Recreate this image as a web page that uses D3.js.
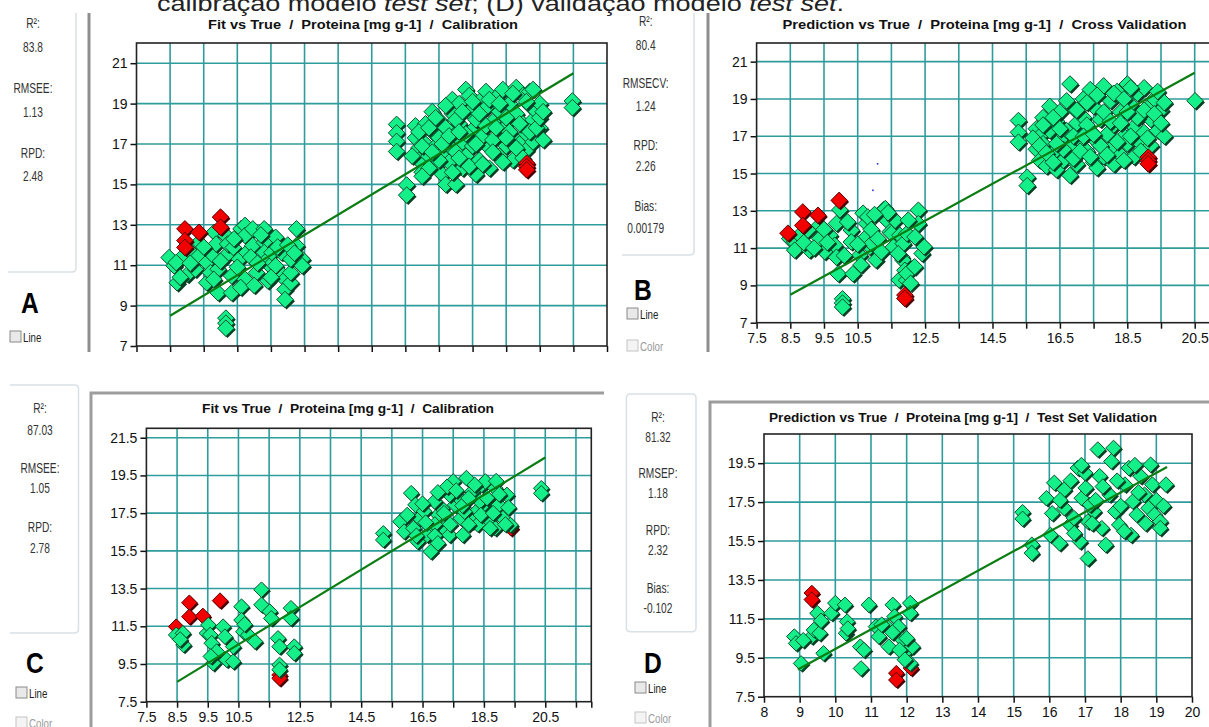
<!DOCTYPE html>
<html>
<head>
<meta charset="utf-8">
<script src="https://cdn.jsdelivr.net/npm/d3@7"></script>
<style>
  body { margin: 0; background: #fff; }
  svg { display: block; font-family: "Liberation Sans", Arial, sans-serif; }
</style>
</head>
<body>
<svg id="fig" width="1209" height="727"></svg>
<script>
// ---------------- values ----------------
// (A) calibration
const aGreen = [[8.47,11.38],[8.62,10.97],[8.71,10.13],[9.02,10.55],[8.9,11.47],[8.68,11.13],[9.13,11.63],[9.36,12.13],[9.36,11.47],[9.25,10.8],[9.59,11.13],[9.74,11.55],[9.59,10.13],[9.7,10.63],[9.81,12.63],[9.87,12.05],[9.93,10.8],[9.93,9.63],[10.16,12.47],[10.16,11.47],[10.21,12.05],[10.38,11.88],[10.33,9.63],[10.33,10.47],[10.56,11.3],[10.61,12.8],[10.73,12.97],[10.73,12.47],[10.73,10.3],[10.78,11.63],[10.96,11.97],[10.96,12.8],[11.07,10.63],[11.3,12.8],[11.3,12.13],[11.3,11.63],[11.41,10.22],[11.41,11.3],[11.47,10.97],[11.53,11.63],[11.64,12.38],[11.64,10.97],[11.81,11.63],[11.87,10.47],[11.92,10.3],[11.92,9.8],[11.92,9.3],[12.09,10.13],[12.09,10.63],[12.09,11.3],[12.26,12.8],[12.26,11.97],[12.43,11.3],[12.43,10.97],[10.16,8.38],[10.16,8.13],[10.16,7.88],
  [8.8,10.4],[9.1,11.1],[9.5,11.9],[9.8,10.3],[10.0,11.2],[10.4,12.3],[10.5,10.9],[10.9,11.4],[11.2,12.5],[11.1,11.1],[11.7,11.9],[11.5,10.4],[12.0,12.0],[12.2,11.6],[10.6,9.9],[11.0,10.0],
  [15.24,17.97],[15.24,17.55],[15.24,17.13],[15.24,16.63],[15.54,14.97],[15.54,14.47],
  [15.8,17.9],[15.8,17.3],[15.9,16.8],[15.9,16.2],[16.0,15.6],[16.1,18.0],[16.1,17.0],[16.2,16.4],[16.3,18.6],[16.3,17.6],[16.4,16.9],[16.4,15.9],[16.5,18.2],[16.5,17.3],[16.6,16.5],[16.6,15.5],[16.7,17.8],[16.7,15.0],[16.8,16.9],[16.8,16.1],[16.9,19.2],[16.9,18.5],[17.0,17.5],[17.0,15.0],[17.0,16.6],[17.1,19.0],[17.1,18.0],[17.2,17.1],[17.2,15.8],[17.3,16.4],[17.3,19.7],[17.4,19.4],[17.4,18.6],[17.5,17.7],[17.5,16.9],[17.6,15.5],[17.6,18.2],[17.7,19.1],[17.7,16.2],[17.8,17.4],[17.9,18.8],[17.9,19.6],[18.0,16.8],[18.0,15.8],[18.1,18.1],[18.1,17.2],[18.2,19.3],[18.3,16.4],[18.3,18.6],[18.4,17.7],[18.4,19.7],[18.5,16.9],[18.6,18.2],[18.6,19.0],[18.7,17.4],[18.7,16.2],[18.8,19.8],[18.8,18.5],[18.9,17.0],[19.0,19.4],[19.0,18.0],[19.1,17.5],[19.1,16.7],[19.2,18.9],[19.2,19.6],[19.3,18.2],[19.3,17.1],[19.4,18.6],[19.5,17.8],[19.6,17.2],[19.5,19.0],
  [15.7,16.4],[15.9,17.6],[16.0,16.9],[16.2,17.8],[16.2,15.8],[16.4,18.3],[16.5,16.2],[16.6,17.0],[16.7,18.9],[16.8,17.4],[16.9,15.6],[17.0,18.2],[17.1,16.3],[17.2,18.6],[17.3,17.5],[17.4,15.9],[17.5,19.1],[17.6,17.0],[17.7,18.5],[17.8,16.0],[17.9,17.9],[18.0,19.2],[18.1,16.6],[18.2,17.8],[18.3,19.0],[18.4,16.1],[18.5,18.3],[18.6,17.6],[18.7,19.5],[18.8,16.8],[18.9,18.0],[19.0,16.3],[19.1,19.1],[19.2,17.6],[19.3,19.7],[19.4,17.8],[19.5,18.3],[19.6,18.6],[16.3,16.6],[17.1,17.6],[18.5,17.3],[16.0,15.4],
  [20.47,19.13],[20.47,18.8]];
const aRed = [[8.94,12.8],[8.94,12.22],[8.94,11.88],[9.36,12.63],[10.0,13.38],[10.0,12.88],[19.11,16.05],[19.11,15.88],[19.11,15.72]];
const aFit = [[8.5,8.5],[20.5,20.5]];

// (B) cross validation
const bGreen = [[8.48,11.51],[8.63,11.33],[8.63,10.89],[8.78,11.69],[9.02,11.96],[9.07,10.89],[9.37,12.23],[9.37,11.51],[9.52,10.81],[9.67,11.69],[9.82,11.15],[9.87,12.32],[9.87,10.51],[9.92,9.62],[9.97,13.05],[10.31,11.96],[10.31,11.33],[10.36,9.62],[10.56,10.62],[10.66,12.87],[10.76,12.32],[10.76,11.6],[10.8,12.67],[10.86,11.06],[10.92,11.25],[11.04,10.36],[11.26,13.05],[11.32,13.12],[11.36,12.5],[11.46,11.87],[11.5,11.78],[11.56,11.06],[11.61,12.49],[11.73,9.29],[11.75,11.69],[11.8,10.53],[11.84,10.36],[11.85,11.24],[11.9,9.81],[11.95,9.28],[11.96,11.78],[11.96,9.64],[12.07,9.11],[12.19,10.0],[12.3,13.03],[12.3,12.31],[12.41,10.71],[12.47,11.07],[10.05,8.28],[10.05,8.05],[10.05,7.84],
  [8.9,11.3],[9.2,11.0],[9.5,12.0],[9.6,11.3],[10.1,10.6],[10.2,12.4],[10.5,11.2],[10.9,12.0],[11.1,11.5],[11.2,10.8],[11.4,12.9],[11.7,10.7],[12.0,12.5],[12.2,11.6],[10.6,10.1],[11.0,12.8],
  [15.27,17.84],[15.27,17.21],[15.27,16.68],[15.53,14.8],[15.53,14.35],
  [15.8,17.4],[15.8,16.3],[15.9,17.0],[15.9,15.7],[16.0,18.0],[16.0,16.6],[16.1,15.4],[16.2,18.6],[16.2,17.3],[16.3,16.1],[16.4,17.8],[16.4,15.2],[16.5,16.8],[16.5,18.3],[16.6,15.7],[16.7,17.3],[16.8,19.8],[16.8,16.4],[16.8,14.9],[16.9,18.5],[17.0,17.7],[17.0,15.5],[17.1,16.8],[17.2,19.0],[17.2,18.0],[17.3,16.2],[17.4,17.3],[17.4,19.5],[17.5,15.6],[17.5,18.6],[17.6,16.7],[17.6,15.3],[17.7,17.9],[17.8,19.7],[17.8,15.9],[17.9,17.1],[18.0,18.9],[18.0,16.3],[18.1,17.6],[18.1,15.5],[18.2,19.4],[18.3,16.0],[18.3,18.3],[18.4,17.0],[18.5,19.8],[18.5,16.6],[18.6,18.7],[18.7,17.5],[18.7,15.9],[18.8,19.3],[18.9,18.1],[18.9,16.6],[19.0,19.6],[19.0,17.2],[19.1,18.5],[19.2,17.9],[19.2,16.5],[19.3,19.0],[19.4,17.3],[19.5,18.4],[19.6,17.0],
  [15.7,16.9],[15.9,16.5],[16.0,17.6],[16.1,16.1],[16.3,18.0],[16.3,15.6],[16.5,17.4],[16.6,16.3],[16.7,18.9],[16.9,17.0],[16.9,15.8],[17.0,18.4],[17.1,16.2],[17.3,18.8],[17.3,17.6],[17.4,15.9],[17.6,19.2],[17.7,16.5],[17.8,18.3],[17.9,16.0],[18.0,17.8],[18.1,19.3],[18.2,16.7],[18.3,17.7],[18.4,19.0],[18.4,15.7],[18.6,17.0],[18.6,19.6],[18.8,18.0],[18.9,16.2],[19.0,18.4],[19.1,16.9],[19.3,18.2],[19.4,19.4],[19.5,17.7],[19.6,18.8],[17.2,17.0],[18.5,18.3],[16.4,16.6],[17.5,17.1],
  [20.51,18.9]];
const bRed = [[8.43,11.8],[8.87,12.94],[8.87,12.22],[9.32,12.76],[9.95,13.56],[11.9,8.48],[11.9,8.3],[19.12,15.88],[19.12,15.7],[19.12,15.52]];
const bFit = [[8.5,8.5],[20.5,20.4]];
const bSpecks = [[11.09,15.52],[10.95,14.1]];

// (C) calibration, test-set model
const cGreen = [[8.47,11.04],[8.69,11.13],[8.71,10.51],[8.6,10.8],[9.47,11.13],[9.52,11.57],[9.58,11.04],[9.63,10.6],[9.68,9.54],[9.79,10.16],[9.6,9.9],[10.0,11.48],[10.06,10.95],[10.12,9.72],[10.33,9.63],[10.33,10.42],[10.6,12.54],[10.6,11.83],[10.66,11.21],[10.82,11.04],[10.7,11.6],[11.04,10.69],[11.25,13.44],[11.25,12.64],[11.52,12.28],[11.57,11.92],[11.79,10.86],[11.84,10.42],[11.84,9.45],[11.84,9.2],[12.21,12.46],[12.21,11.92],[12.32,10.42],[12.32,10.07],
  [15.22,16.43],[15.22,16.08],
  [16.13,18.56],[16.27,17.94],[15.78,17.05],[15.9,16.52],[16.4,17.23],[16.34,15.99],[16.77,15.46],[16.77,16.34],[17.01,17.41],[17.2,16.7],[17.38,16.34],[17.5,19.18],[17.56,17.94],[17.75,17.23],[17.81,16.34],[17.93,19.36],[17.69,18.29],[18.12,18.65],[18.25,17.58],[18.12,17.05],[18.43,19.0],[18.49,17.94],[18.55,19.18],[18.68,17.05],[18.87,18.82],[18.99,17.94],[19.12,17.23],[19.25,18.47],[18.87,16.7],[19.37,16.87],[17.38,18.47],[17.13,17.76],[16.89,18.12],[16.65,16.34],[18.37,18.12],[17.87,17.58],[16.55,17.6],[17.3,18.9],[18.9,19.2],[16.9,16.9],[18.3,16.9],
  [16.0,17.4],[16.2,16.7],[16.5,18.0],[16.6,17.0],[16.9,16.3],[17.0,18.6],[17.2,17.5],[17.4,16.9],[17.6,18.7],[17.8,17.9],[18.0,16.9],[18.2,19.0],[18.4,17.4],[18.6,18.3],[18.8,17.5],[19.0,18.5],[19.2,16.9],[19.3,17.8],[17.0,15.9],[16.3,16.3],[18.0,18.3],[18.7,16.7],
  [20.37,18.82],[20.37,18.55]];
const cRed = [[8.47,11.48],[8.9,12.75],[8.9,12.01],[9.34,12.05],[9.9,12.86],[11.84,8.92],[11.84,8.74],[19.38,16.7]];
const cFit = [[8.5,8.55],[20.5,20.45]];

// (D) test set validation
const dGreen = [[8.85,10.59],[8.9,10.24],[9.04,9.21],[9.34,10.59],[9.4,10.93],[9.56,10.76],[9.5,11.79],[9.67,9.73],[9.89,11.79],[10.0,12.31],[10.27,12.22],[10.33,11.36],[10.3,10.76],[10.7,10.07],[10.72,8.95],[10.94,12.22],[11.14,11.1],[11.22,10.59],[11.5,11.02],[11.5,10.07],[11.61,12.22],[11.66,11.62],[11.77,11.1],[11.88,10.42],[11.93,9.73],[12.1,9.21],[12.1,12.31],[12.1,11.79],[12.16,10.07],
  [9.1,10.4],[9.6,11.4],[10.35,11.0],[10.8,9.9],[11.3,11.2],[11.8,9.9],[11.6,10.8],[11.95,9.4],[12.0,10.5],
  [15.25,16.98],[15.25,16.64],[15.51,15.31],[15.51,14.88],
  [15.92,17.7],[16.08,16.92],[16.03,15.81],[16.29,15.38],[16.14,18.49],[16.42,18.14],[16.42,17.19],[16.58,16.33],[16.8,19.25],[16.91,17.7],[16.86,15.47],[17.08,14.6],[17.02,18.23],[17.08,16.5],[17.25,17.02],[17.36,20.2],[17.41,18.83],[17.47,16.16],[17.58,15.3],[17.69,17.88],[17.8,20.28],[17.74,19.59],[17.85,17.02],[17.96,16.33],[18.12,18.4],[18.23,19.25],[18.29,15.81],[18.34,17.53],[18.56,18.83],[18.67,17.88],[18.78,17.19],[18.84,19.42],[18.89,18.4],[18.95,16.85],[19.11,16.5],[19.11,16.16],[19.27,18.4],[18.45,16.85],[17.14,17.36],[16.69,16.68],
  [16.3,17.6],[16.6,18.6],[16.7,15.9],[17.0,19.0],[17.3,17.6],[17.5,18.3],[17.9,18.6],[18.0,17.3],[18.4,19.4],[18.5,18.0],[18.7,16.4],[19.0,17.6],[17.2,16.4],[18.1,16.0],[16.9,19.4],[19.2,17.3]];
const dRed = [[9.34,12.83],[9.34,12.49],[11.71,8.71],[11.71,8.36],[12.12,8.97]];
const dFit = [[8.95,8.9],[19.3,19.3]];

// ticks and labels
const abXTicks = [7.5,8.5,9.5,10.5,11.5,12.5,13.5,14.5,15.5,16.5,17.5,18.5,19.5,20.5,21.5];
const abXLabels = ["7.5","8.5","9.5","10.5","","12.5","","14.5","","16.5","","18.5","","20.5",""];
const abYTicks = [7,9,11,13,15,17,19,21];
const abYLabels = ["7","9","11","13","15","17","19","21"];
const cXTicks = [7.5,8.5,9.5,10.5,11.5,12.5,13.5,14.5,15.5,16.5,17.5,18.5,19.5,20.5,21.5,22];
const cXLabels = ["7.5","8.5","9.5","10.5","","12.5","","14.5","","16.5","","18.5","","20.5","",""];
const cYTicks = [7.5,9.5,11.5,13.5,15.5,17.5,19.5,21.5];
const cYLabels = ["7.5","9.5","11.5","13.5","15.5","17.5","19.5","21.5"];
const dXTicks = [8,9,10,11,12,13,14,15,16,17,18,19,20];
const dXLabels = ["8","9","10","11","12","13","14","15","16","17","18","19","20"];
const dYTicks = [7.5,9.5,11.5,13.5,15.5,17.5,19.5];
const dYLabels = ["7.5","9.5","11.5","13.5","15.5","17.5","19.5"];

// statistics panels
const aStats = ["R²:","83.8","RMSEE:","1.13","RPD:","2.48"];
const bStats = ["R²:","80.4","RMSECV:","1.24","RPD:","2.26","Bias:","0.00179"];
const cStats = ["R²:","87.03","RMSEE:","1.05","RPD:","2.78"];
const dStats = ["R²:","81.32","RMSEP:","1.18","RPD:","2.32","Bias:","-0.102"];

const titles = ["Fit vs True  /  Proteina [mg g-1]  /  Calibration",
                "Prediction vs True  /  Proteina [mg g-1]  /  Cross Validation",
                "Fit vs True  /  Proteina [mg g-1]  /  Calibration",
                "Prediction vs True  /  Proteina [mg g-1]  /  Test Set Validation"];

// ---------------- drawing ----------------
const svg = d3.select("#fig");
const GRID = "#2f9c9c", GREEN = "#14ef8a", RED = "#f20000", FIT = "#0b7d12";

// squeeze a text selection horizontally (the original UI font is condensed)
function condense(sel, k){
  sel.each(function(){
    const len = this.getComputedTextLength();
    if (len > 0) d3.select(this).attr("textLength", len * k).attr("lengthAdjust","spacingAndGlyphs");
  });
}

const defs = svg.append("defs");
defs.append("clipPath").attr("id","topRow").append("rect")
    .attr("x",0).attr("y",13).attr("width",1209).attr("height",339);

// caption fragment cut by the top edge
const cap = svg.append("text").attr("x",157).attr("y",11)
   .attr("font-size",22).attr("fill","#222")
   .attr("textLength",687).attr("lengthAdjust","spacingAndGlyphs");
cap.append("tspan").text("calibração modelo ");
cap.append("tspan").attr("font-style","italic").text("test set");
cap.append("tspan").text("; (D) validação modelo ");
cap.append("tspan").attr("font-style","italic").text("test set");
cap.append("tspan").text(".");

const panels = [
  { green:aGreen, red:aRed, fit:aFit, redFirst:false, size:8.3, clip:"topRow",
    frame:{l:136.5,r:607,t:43,b:346}, xDom:[7.5,21.5], yDom:[7,22],
    xTicks:abXTicks, xLabels:abXLabels, yTicks:abYTicks, yLabels:abYLabels,
    title:titles[0], titleX:363, titleY:29, titleW:310,
    stats:aStats, statX:33, statY:[28,52,93,117,158,181],
    box:{l:8,r:76,t:-10,b:272,sides:"rb"}, win:{x:89,y:-10,bottom:352},
    letter:"A", letterX:30, letterY:313,
    checks:[{label:"Line",x:10,y:331,on:true}] },
  { green:bGreen, red:bRed, fit:bFit, redFirst:false, size:8.3, clip:"topRow", specks:bSpecks,
    frame:{l:756.6,r:1228.4,t:43,b:322.7}, xDom:[7.5,21.5], yDom:[7,22],
    xTicks:abXTicks, xLabels:abXLabels, yTicks:abYTicks, yLabels:abYLabels,
    title:titles[1], titleX:984.5, titleY:29, titleW:404,
    stats:bStats, statX:645.7, statY:[26,50,88,111,150,171,211,233],
    box:{l:622,r:694,t:-10,b:255,sides:"rb"}, win:{x:708,y:-10,bottom:352},
    letter:"B", letterX:643, letterY:300,
    checks:[{label:"Line",x:627,y:308,on:true},{label:"Color",x:627,y:340,on:false}] },
  { green:cGreen, red:cRed, fit:cFit, redFirst:true, size:7.8,
    frame:{l:146.4,r:591.3,t:428.3,b:701.7}, xDom:[7.5,22], yDom:[7.5,22],
    xTicks:cXTicks, xLabels:cXLabels, yTicks:cYTicks, yLabels:cYLabels,
    title:titles[2], titleX:348, titleY:413, titleW:292,
    stats:cStats, statX:40, statY:[413,435,473,493,532,553],
    box:{l:10,r:78.5,t:385,b:633,sides:"trb"}, win:{x:91,y:393,right:604},
    letter:"C", letterX:35, letterY:673,
    checks:[{label:"Line",x:16,y:687,on:true},{label:"Color",x:16,y:717,on:false}] },
  { green:dGreen, red:dRed, fit:dFit, redFirst:true, size:7.8,
    frame:{l:764,r:1192,t:434,b:696.7}, xDom:[8,20], yDom:[7.5,21],
    xTicks:dXTicks, xLabels:dXLabels, yTicks:dYTicks, yLabels:dYLabels,
    title:titles[3], titleX:963, titleY:421.7, titleW:388,
    stats:dStats, statX:658, statY:[421.7,441.7,478,498,535,555,593,613],
    box:{l:626.4,r:696,t:394,b:631.7,sides:"ltrb"}, win:{x:710,y:402,right:1215},
    letter:"D", letterX:653, letterY:673,
    checks:[{label:"Line",x:635,y:682,on:true},{label:"Color",x:635,y:712,on:false}] }
];

function diamond(h){ return `M0,${-h}L${h},0L0,${h}L${-h},0Z`; }

function drawPanel(p){
  const g = svg.append("g");
  if (p.clip) g.attr("clip-path", `url(#${p.clip})`);
  const f = p.frame;
  const x = d3.scaleLinear().domain(p.xDom).range([f.l, f.r]);
  const y = d3.scaleLinear().domain(p.yDom).range([f.b, f.t]);

  // window border
  const w = p.win;
  if (w.bottom) {
    g.append("line").attr("x1",w.x).attr("x2",w.x).attr("y1",w.y).attr("y2",w.bottom)
     .attr("stroke","#8e8e8e").attr("stroke-width",3);
  } else {
    g.append("path").attr("d",`M${w.x},735V${w.y}H${w.right}`)
     .attr("fill","none").attr("stroke","#9d9d9d").attr("stroke-width",3);
  }

  // stats box
  const b = p.box, r = 4;
  let d = "";
  if (b.sides === "rb") d = `M${b.r},${b.t}V${b.b-r}Q${b.r},${b.b} ${b.r-r},${b.b}H${b.l}`;
  if (b.sides === "trb") d = `M${b.l},${b.t}H${b.r-r}Q${b.r},${b.t} ${b.r},${b.t+r}V${b.b-r}Q${b.r},${b.b} ${b.r-r},${b.b}H${b.l}`;
  if (b.sides === "ltrb") d = `M${b.l+r},${b.t}H${b.r-r}Q${b.r},${b.t} ${b.r},${b.t+r}V${b.b-r}Q${b.r},${b.b} ${b.r-r},${b.b}H${b.l+r}Q${b.l},${b.b} ${b.l},${b.b-r}V${b.t+r}Q${b.l},${b.t} ${b.l+r},${b.t}Z`;
  g.append("path").attr("d",d).attr("fill","none").attr("stroke","#d9e0e6").attr("stroke-width",1.5);

  g.selectAll(null).data(p.stats).join("text")
   .attr("x",p.statX).attr("y",(s,i)=>p.statY[i])
   .attr("text-anchor","middle").attr("font-size",14.5).attr("fill","#333")
   .text(s=>s)
   .call(condense, 0.7);

  g.append("text").attr("x",p.letterX).attr("y",p.letterY)
   .attr("text-anchor","middle").attr("font-size",30).attr("font-weight","bold")
   .attr("fill","#000").text(p.letter)
   .call(condense, 0.82);

  const cb = g.selectAll(null).data(p.checks).join("g");
  cb.append("rect").attr("x",c=>c.x).attr("y",c=>c.y).attr("width",11).attr("height",11)
    .attr("fill",c=>c.on ? "#e9e9e9" : "#f4f4f4")
    .attr("stroke",c=>c.on ? "#8a8a8a" : "#c4c4c4").attr("stroke-width",1);
  cb.append("text").attr("x",c=>c.x+13).attr("y",c=>c.y+10.5)
    .attr("font-size",13.5).attr("fill",c=>c.on ? "#222" : "#9a9a9a").text(c=>c.label)
    .call(condense, 0.72);

  // title
  g.append("text").attr("x",p.titleX).attr("y",p.titleY)
   .attr("text-anchor","middle").attr("font-size",13).attr("font-weight","bold")
   .attr("fill","#111").style("white-space","pre")
   .attr("textLength",p.titleW).attr("lengthAdjust","spacingAndGlyphs")
   .text(p.title);

  // grid
  const xIn = p.xTicks.filter(v => v > p.xDom[0] && v < p.xDom[1]);
  const yIn = p.yTicks.filter(v => v > p.yDom[0] && v < p.yDom[1]);
  g.selectAll(null).data(xIn).join("line")
   .attr("x1",x).attr("x2",x).attr("y1",f.t).attr("y2",f.b)
   .attr("stroke",GRID).attr("stroke-width",1.6);
  g.selectAll(null).data(yIn).join("line")
   .attr("x1",f.l).attr("x2",f.r).attr("y1",y).attr("y2",y)
   .attr("stroke",GRID).attr("stroke-width",1.6);

  // axes
  const xl = d3.axisBottom(x).tickValues(p.xTicks).tickSize(6).tickPadding(4)
               .tickFormat((v,i)=>p.xLabels[i]);
  const yl = d3.axisLeft(y).tickValues(p.yTicks).tickSize(6).tickPadding(3)
               .tickFormat((v,i)=>p.yLabels[i]);
  const ax = g.append("g").attr("transform",`translate(0,${f.b})`).call(xl);
  const ay = g.append("g").attr("transform",`translate(${f.l},0)`).call(yl);
  [ax, ay].forEach(a => {
    a.select(".domain").remove();
    a.selectAll(".tick line").attr("stroke","#111").attr("stroke-width",1.5);
    a.selectAll(".tick text").attr("font-size",14).attr("fill","#111")
     .attr("font-family","'Liberation Sans',Arial,sans-serif");
  });

  // frame
  g.append("rect").attr("x",f.l).attr("y",f.t).attr("width",f.r-f.l).attr("height",f.b-f.t)
   .attr("fill","none").attr("stroke","#222").attr("stroke-width",1.6);

  // points
  const plot = g.append("g");
  const layers = p.redFirst ? [[p.red,RED,"#4a0000"],[p.green,GREEN,"#083f24"]]
                            : [[p.green,GREEN,"#083f24"],[p.red,RED,"#4a0000"]];
  layers.forEach(([pts, fill, edge]) => {
    const m = plot.append("g").selectAll("g").data(pts).join("g")
      .attr("transform",q=>`translate(${x(q[0])},${y(q[1])})`);
    m.append("path").attr("d",diamond(p.size)).attr("transform","translate(1.6,1.6)")
     .attr("fill",edge);
    m.append("path").attr("d",diamond(p.size)).attr("fill",fill)
     .attr("stroke",edge).attr("stroke-width",0.9);
  });

  if (p.specks) {
    plot.selectAll(null).data(p.specks).join("rect")
      .attr("x",q=>x(q[0])-0.8).attr("y",q=>y(q[1])-0.8).attr("width",1.6).attr("height",1.6)
      .attr("fill","#2233cc");
  }

  // fitted line
  plot.append("path").datum(p.fit)
   .attr("d",d3.line().x(q=>x(q[0])).y(q=>y(q[1])))
   .attr("stroke",FIT).attr("stroke-width",2.2).attr("fill","none");
}

panels.forEach(drawPanel);
</script>
</body>
</html>
